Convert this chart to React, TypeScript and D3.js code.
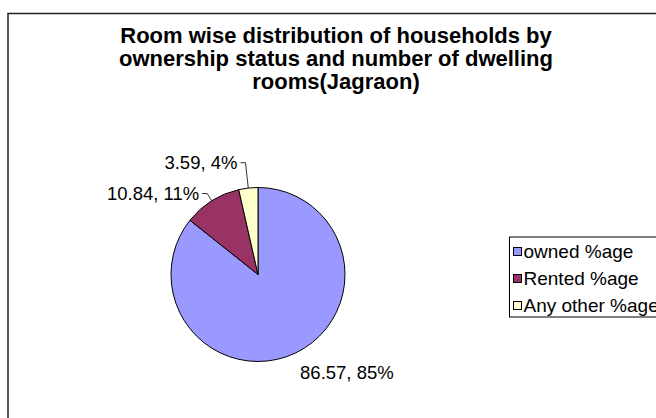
import React from "react";
import * as d3 from "d3";

const categories = ["owned %age", "Rented %age", "Any other %age"];
const values = [86.57, 10.84, 3.59];
const percentLabels = ["85%", "11%", "4%"];
const colors = ["#9999FF", "#993366", "#FFFFCC"];
const titleLines = [
  "Room wise distribution of households by",
  "ownership status and number of dwelling",
  "rooms(Jagraon)",
];

const W = 656;
const H = 418;
const cx = 258;
const cy = 274.5;
const R = 87;
// radial distance of each data label elbow from the centre
const labelRadii = [97, 95.6, 112.5];
const FONT = "Liberation Sans, Arial, sans-serif";
const LABEL_SIZE = 18.5;

export default function App() {
  const pie = d3
    .pie<number>()
    .sort(null)
    .value((d) => d)
    .startAngle(0)
    .endAngle(2 * Math.PI);
  const arcs = pie(values);
  const arc = d3.arc<d3.PieArcDatum<number>>().innerRadius(0).outerRadius(R);

  const pt = (a: number, r: number) => [cx + r * Math.sin(a), cy - r * Math.cos(a)];

  return (
    <svg
      width={W}
      height={H}
      style={{ position: "absolute", left: 0, top: 0, background: "#fff" }}
      fontFamily={FONT}
    >
      <rect x={8} y={13.5} width={700} height={500} fill="#fff" stroke="#222" strokeWidth={1.5} />
      {titleLines.map((t, i) => (
        <text
          key={i}
          x={336}
          y={43 + i * 23}
          textAnchor="middle"
          fontWeight="bold"
          fontSize={22}
          fill="#000"
        >
          {t}
        </text>
      ))}
      <g>
        {arcs.map((a, i) => (
          <path
            key={i}
            d={arc(a) || ""}
            transform={`translate(${cx},${cy})`}
            fill={colors[i]}
            stroke="#000"
            strokeWidth={1}
          />
        ))}
      </g>
      {arcs.map((a, i) => {
        const mid = (a.startAngle + a.endAngle) / 2;
        const left = Math.sin(mid) < 0;
        const lr = labelRadii[i];
        const [x0, y0] = pt(mid, R);
        const [x1, y1] = pt(mid, lr);
        const label = `${values[i]}, ${percentLabels[i]}`;
        if (!left) {
          return (
            <text key={i} x={x1} y={y1 + 17.4} fontSize={LABEL_SIZE} textAnchor="start" fill="#000">
              {label}
            </text>
          );
        }
        const x2 = x1 - 5;
        return (
          <g key={i}>
            <polyline
              points={`${x0},${y0} ${x1},${y1} ${x2},${y1}`}
              fill="none"
              stroke="#000"
              strokeWidth={0.8}
            />
            <text x={x2 - 3} y={y1 + 6.6} fontSize={LABEL_SIZE} textAnchor="end" fill="#000">
              {label}
            </text>
          </g>
        );
      })}
      <g>
        <rect x={509.5} y={237} width={200} height={80} fill="#fff" stroke="#000" strokeWidth={1} />
        {categories.map((c, i) => (
          <g key={i} transform={`translate(513,${251.5 + i * 27})`}>
            <rect x={0.5} y={-4} width={8} height={8} fill={colors[i]} stroke="#000" strokeWidth={1} />
            <text x={10.5} y={6.8} fontSize={19} fill="#000">
              {c}
            </text>
          </g>
        ))}
      </g>
    </svg>
  );
}
